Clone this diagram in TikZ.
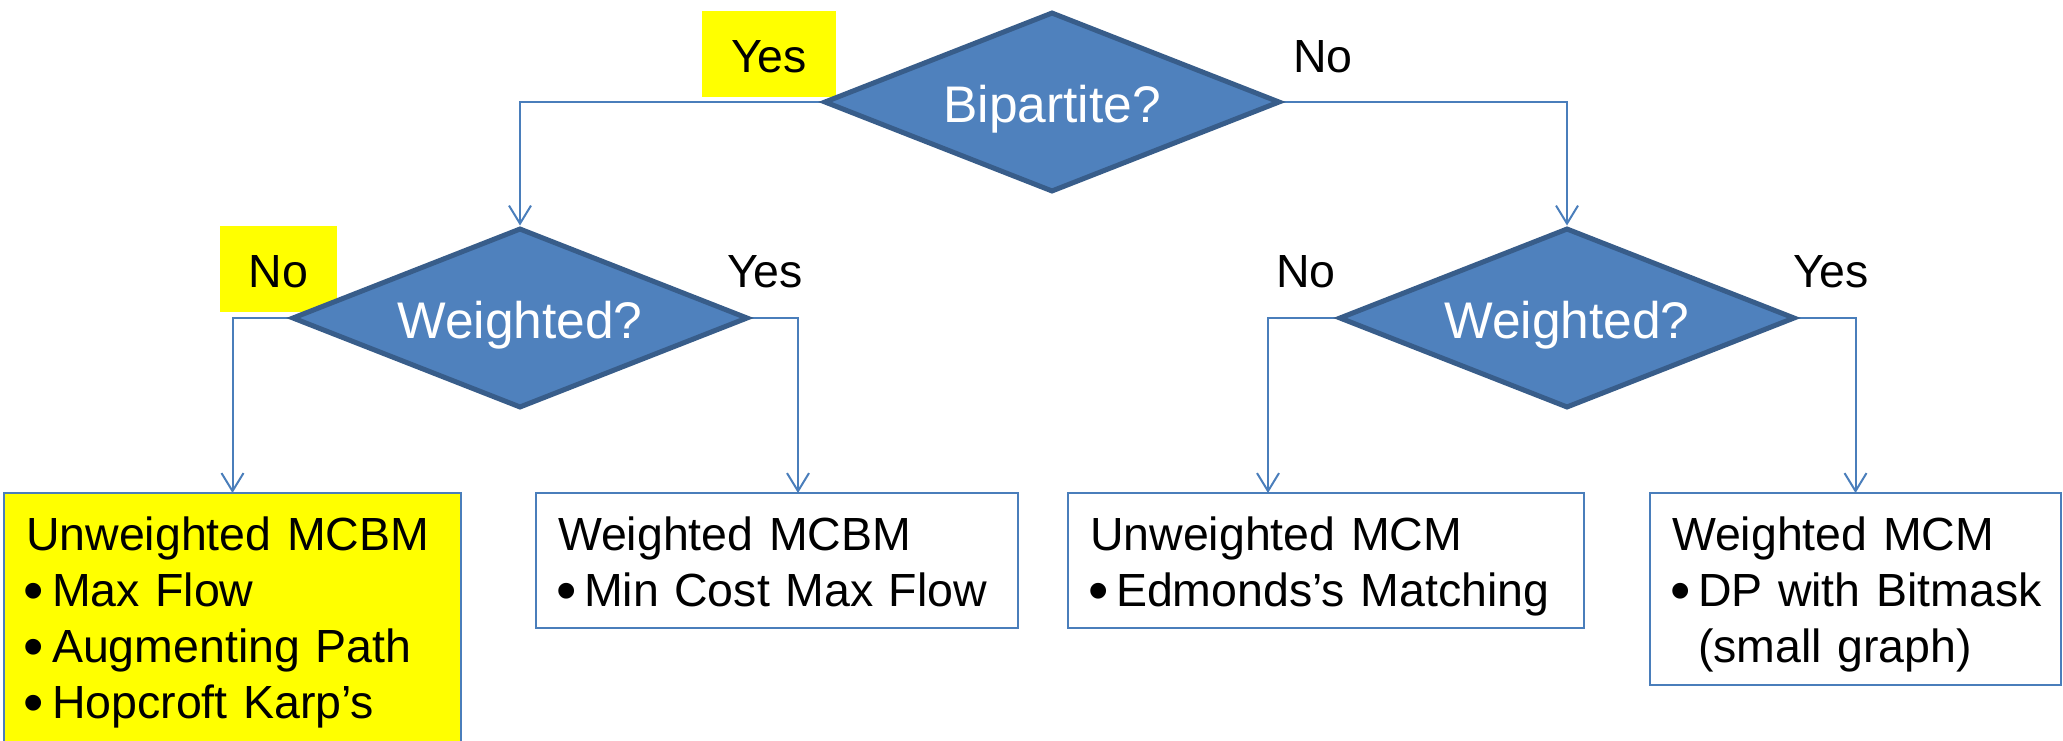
\documentclass[tikz,border=0pt]{standalone}
\usepackage{fontspec}
\setmainfont{Liberation Sans}
\usetikzlibrary{shapes.geometric,arrows.meta,backgrounds}

\definecolor{decfill}{HTML}{4F81BD}
\definecolor{decedge}{HTML}{385D8A}
\definecolor{linkblue}{HTML}{4A7EBB}
\definecolor{hilite}{HTML}{FFFF00}

% bullet item and continuation line with hanging indent
\newcommand\bigbullet{\hspace*{-2pt}\smash{\raisebox{-4pt}{\scalebox{1.25}{\textbullet}}}}
\newcommand\bitem[1]{\mbox{\makebox[26pt][l]{\bigbullet}#1}}
\newcommand\hangline[1]{\mbox{\hspace*{26pt}#1}}

\begin{document}
\begin{tikzpicture}[x=1pt,y=-1pt,
  decision/.style={diamond, aspect=2.53, minimum width=456pt, minimum height=180pt,
    inner sep=0pt, fill=decfill, draw=decedge, line width=5pt, text=white,
    font=\fontsize{51.5}{60}\selectfont, text height=41pt, text depth=0pt},
  leaf/.style={draw=linkblue, line width=2pt, anchor=north west, outer sep=0pt,
    inner xsep=22pt, inner ysep=0pt, align=left,
    font=\fontsize{46.5}{56}\selectfont, text height=57pt},
  answer/.style={anchor=base, inner sep=0pt, font=\fontsize{46.5}{56}\selectfont},
  chosen/.style={answer, fill=hilite, text height=61pt, text depth=25pt},
  link/.style={draw=linkblue, line width=2pt, -{Straight Barb[length=18pt,width=22pt]}}
]
\useasboundingbox (0,0) rectangle (2063,740);

% branch answers
\node[chosen, minimum width=134pt] (yes0) at (769,72) {Yes};
\node[answer] (no0) at (1323,72) {No};
\node[chosen, minimum width=117pt] (no1) at (278.5,287) {No};
\node[answer] (yes1) at (765,287) {Yes};
\node[answer] (no2) at (1306,287) {No};
\node[answer] (yes2) at (1831,287) {Yes};

% decisions
\node[decision] (top) at (1052,102) {Bipartite?};
\node[decision] (wl) at (520,318) {Weighted?};
\node[decision] (wr) at (1567,318) {Weighted?};

% outcomes
\node[leaf, fill=hilite, text width=413pt, text depth=203pt] (mcbm) at (4,493)
  {Unweighted MCBM\\ \bitem{Max Flow}\\ \bitem{Augmenting Path}\\ \bitem{Hopcroft Karp’s}};
\node[leaf, text width=438pt, text depth=78pt] (wmcbm) at (536,493)
  {Weighted MCBM\\ \bitem{Min Cost Max Flow}};
\node[leaf, text width=472pt, text depth=78pt] (umcm) at (1068,493)
  {Unweighted MCM\\ \bitem{Edmonds’s Matching}};
\node[leaf, text width=367pt, text depth=135pt] (wmcm) at (1650,493)
  {Weighted MCM\\ \bitem{DP with Bitmask}\\ \hangline{(small graph)}};

% connectors
\begin{scope}[on background layer]
  \draw[link] (top.west) -| (wl.north);
  \draw[link] (top.east) -| (wr.north);
  \draw[link] (wl.west) -| (mcbm.north);
  \draw[link] (wl.east) -| ([xshift=21pt]wmcbm.north);
  \draw[link] (wr.west) -| ([xshift=-58pt]umcm.north);
  \draw[link] (wr.east) -| (wmcm.north);
\end{scope}
\end{tikzpicture}
\end{document}
